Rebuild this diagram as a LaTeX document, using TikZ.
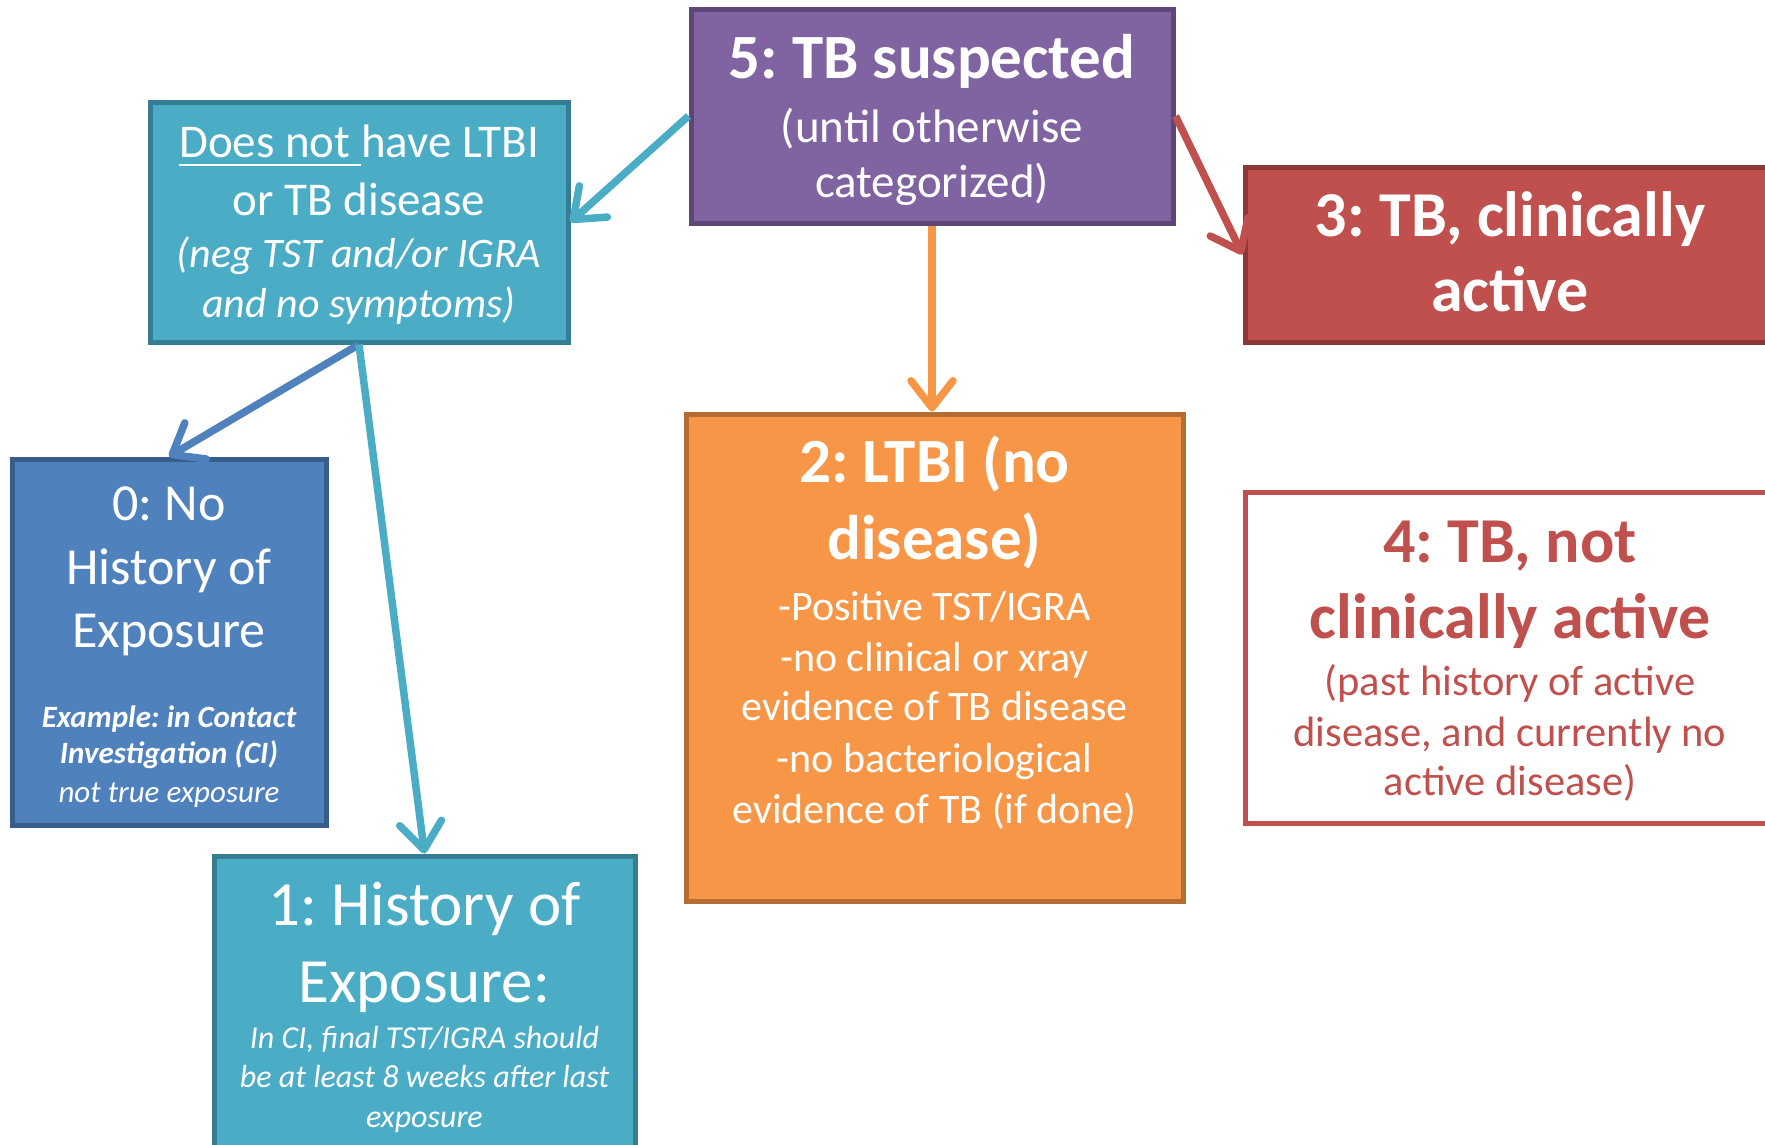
\documentclass[tikz,border=0pt]{standalone}
\usepackage{fontspec}
\setmainfont{Carlito}
\usetikzlibrary{arrows.meta}
\definecolor{purpF}{HTML}{8064A2}
\definecolor{purpD}{HTML}{5C4776}
\definecolor{cyanF}{HTML}{4BACC6}
\definecolor{cyanD}{HTML}{357D92}
\definecolor{blueF}{HTML}{4F81BD}
\definecolor{blueD}{HTML}{385D8A}
\definecolor{redF}{HTML}{C0504D}
\definecolor{redD}{HTML}{8C3836}
\definecolor{orF}{HTML}{F79646}
\definecolor{orD}{HTML}{B66D31}
\newcommand\tl[3]{{\fontsize{#1}{#2}\selectfont\spaceskip=\fontdimen2\font\relax\xspaceskip=\fontdimen2\font\relax #3\par}}
\newcommand\ulx[1]{\setbox0\hbox{#1}\rlap{\rule[-9pt]{\wd0}{2.2pt}}\box0}
\begin{document}
\begin{tikzpicture}[x=1pt,y=-1pt,
  box/.style={draw, line width=5pt, inner sep=0pt, rectangle},
  txt/.style={anchor=base, align=center, inner sep=0pt, text=white,
    execute at begin node={\lineskiplimit=-1000pt\lineskip=0pt}},
  arr/.style={line width=7.5pt, -{Straight Barb[round, length=27pt, width=42pt]}}]
\useasboundingbox (0,0) rectangle (1765,1144);
\clip (0,0) rectangle (1765,1144);
% boxes
\node[box, fill=purpF, draw=purpD, minimum width=482pt, minimum height=214pt] (b5) at (932,116) {};
\node[box, fill=cyanF, draw=cyanD, minimum width=418pt, minimum height=240pt] (bn) at (359,222) {};
\node[box, fill=blueF, draw=blueD, minimum width=314pt, minimum height=366pt] (b0) at (169,642) {};
\node[box, fill=cyanF, draw=cyanD, minimum width=421pt, minimum height=344pt] (b1) at (424.5,1028) {};
\node[box, fill=redF, draw=redD, minimum width=530pt, minimum height=175pt] (b3) at (1510,254.5) {};
\node[box, fill=white, draw=redF, minimum width=530pt, minimum height=331pt] (b4) at (1510,657.5) {};
\node[box, fill=orF, draw=orD, minimum width=497pt, minimum height=487pt] (b2) at (934.5,657.5) {};
% texts
\node[txt, text width=470pt] (t5) at (932,78)
  {\tl{63}{0}{\bfseries 5: TB suspected}\tl{47}{64}{(until otherwise}\tl{47}{55}{categorized)}};
\node[txt, text width=410pt] (tn) at (359,157)
  {\tl{47}{0}{\ulx{Does not\ }have LTBI}\tl{47}{58}{or TB disease}%
   \tl{42}{52}{\itshape (neg TST and/or IGRA}\tl{42}{50}{\itshape and no symptoms)}};
\node[txt, text width=305pt] (t0) at (169,520)
  {\tl{52}{0}{0: No}\tl{52}{64}{History of}\tl{52}{63}{Exposure}%
   \tl{31}{80}{\bfseries\itshape Example: in Contact}\tl{31}{36}{\bfseries\itshape Investigation (CI)}%
   \tl{31}{39}{\itshape not true exposure}};
\node[txt, text width=415pt] (t1) at (424.5,925)
  {\tl{63}{0}{1: History of}\tl{63}{77}{Exposure:}%
   \tl{32}{46}{\itshape In CI, final TST/IGRA should}\tl{32}{39}{\itshape be at least 8 weeks after last}%
   \tl{32}{40}{\itshape exposure}};
\node[txt, text width=520pt] (t3) at (1510,236)
  {\tl{64}{0}{\bfseries 3: TB, clinically}\tl{64}{75}{\bfseries active}};
\node[txt, text width=520pt, text=redF] (t4) at (1510,562)
  {\tl{64}{0}{\bfseries 4: TB, not}\tl{64}{76}{\bfseries clinically active}%
   \tl{42.5}{57}{(past history of active}\tl{42.5}{51}{disease, and currently no}\tl{42.5}{49}{active disease)}};
\node[txt, text width=490pt] (t2) at (934.5,482)
  {\tl{63}{0}{\bfseries 2: LTBI (no}\tl{63}{77}{\bfseries disease)}%
   \tl{42}{61}{-Positive TST/IGRA}\tl{42}{51}{-no clinical or xray}\tl{42}{49}{evidence of TB disease}%
   \tl{42}{52}{-no bacteriological}\tl{42}{51}{evidence of TB (if done)}};
% connectors
\draw[arr, draw=cyanF] (b5.west) -- (bn.east);
\draw[arr, draw=redF] (b5.east) -- (b3.west);
\draw[arr, draw=orF] (b5.south) -- (b5.south |- b2.north);
\draw[arr, draw=blueF] (bn.south) -- (b0.north);
\draw[arr, draw=cyanF] (bn.south) -- (b1.north);
\end{tikzpicture}
\end{document}
